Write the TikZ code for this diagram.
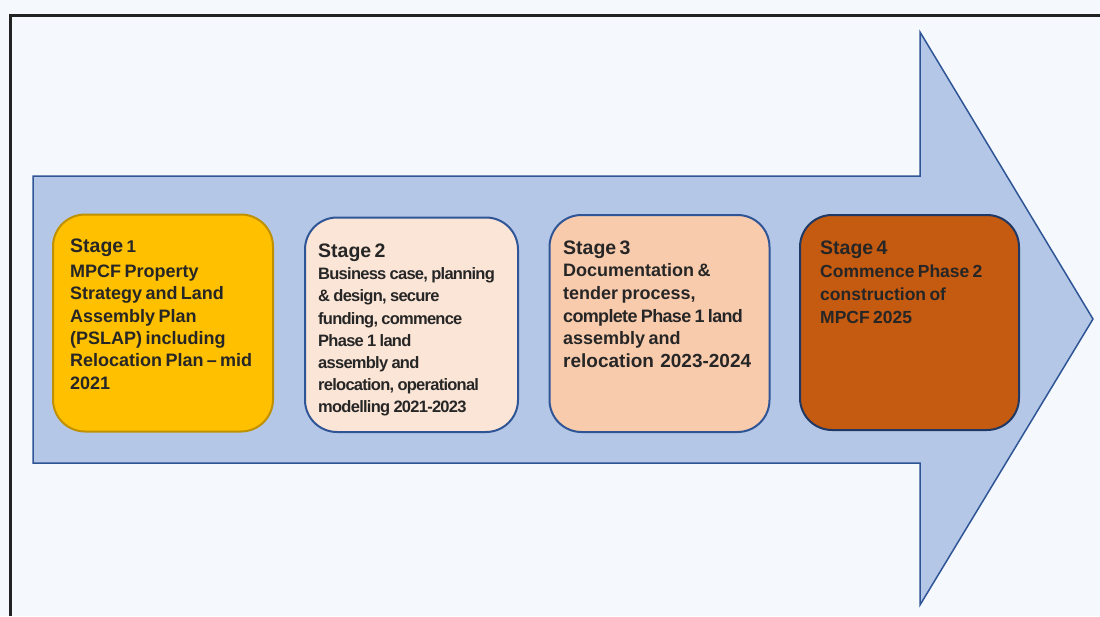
\documentclass[tikz,border=0pt]{standalone}
\usepackage{fontspec}
\setmainfont{Liberation Sans}
\newfontfamily\narrowfont{Liberation Sans}[LetterSpace=-4.5]
\newfontfamily\tightfont{Liberation Sans}[LetterSpace=-3.7]
\definecolor{bgcol}{HTML}{F5F9FE}
\definecolor{framecol}{HTML}{222222}
\definecolor{arrowfill}{HTML}{B4C7E7}
\definecolor{arrowline}{HTML}{2F5597}
\definecolor{goldfill}{HTML}{FFC000}
\definecolor{goldline}{HTML}{BF9000}
\definecolor{pinkfill}{HTML}{FBE5D6}
\definecolor{peachfill}{HTML}{F8CBAD}
\definecolor{rustfill}{HTML}{C55A11}
\definecolor{darkline}{HTML}{203864}
\definecolor{txtcol}{HTML}{262626}
\tikzset{
  stagebox/.style={draw=arrowline, line width=2pt, rounded corners=32pt, inner sep=0pt},
  stagetxt/.style={anchor=base west, inner sep=0pt, text width=240pt, align=left, text=txtcol, font=\bfseries},
}
\newcommand{\headfont}{\fontsize{19.5}{22}\selectfont}
\begin{document}
\begin{tikzpicture}[x=1pt,y=-1pt]
\useasboundingbox (0,0) rectangle (1100,616);
\fill[bgcol] (0,0) rectangle (1100,616);
% frame
\draw[framecol, line width=3pt] (10.5,616) -- (10.5,15.7) -- (1100,15.7);
% big arrow
\draw[fill=arrowfill, draw=arrowline, line width=1.5pt, line join=miter]
  (33,176) -- (920,176) -- (920,32) -- (1093,319) -- (920,605) -- (920,463) -- (33,463) -- cycle;
% stage boxes
\node[stagebox, draw=goldline, fill=goldfill, minimum width=220pt, minimum height=217pt] (s1) at (163,323) {};
\node[stagebox, fill=pinkfill, minimum width=213pt, minimum height=214.5pt] (s2) at (411.5,324.75) {};
\node[stagebox, fill=peachfill, minimum width=220pt, minimum height=217pt] (s3) at (659.5,323.5) {};
\node[stagebox, draw=darkline, fill=rustfill, minimum width=219pt, minimum height=215pt] (s4) at (909.5,322.5) {};
% texts
\node[stagetxt] (t1) at (70,252) {\fontsize{18}{22.3}\selectfont{\headfont Stage {\fontsize{17}{22}\selectfont 1}}\\[3.2pt]
MPCF Property\\Strategy and Land\\Assembly Plan\\(PSLAP) including\\Relocation Plan -- mid\\2021\par};
\node[stagetxt] (t2) at (318,257.5) {\narrowfont\bfseries\fontsize{16.5}{22.2}\selectfont{\fontspec{Liberation Sans}\bfseries\headfont Stage 2}\\[0pt]
Business case, planning\\\& design, secure\\funding, commence\\Phase 1 land\\assembly and\\relocation, operational\\modelling 2021-2023\par};
\node[stagetxt] (t3) at (563,254) {\fontsize{18}{22.9}\selectfont{\headfont Stage 3}\\[-0.7pt]
Documentation \&\\tender process,\\{\tightfont\bfseries complete Phase 1 land}\\assembly and\\{\fontsize{19}{22.9}\selectfont relocation\hspace{3pt} 2023-2024}\par};
\node[stagetxt] (t4) at (820,254) {\fontsize{17.5}{23}\selectfont{\headfont Stage 4}\\[0.5pt]
Commence Phase 2\\construction of\\MPCF 2025\par};
\end{tikzpicture}
\end{document}
